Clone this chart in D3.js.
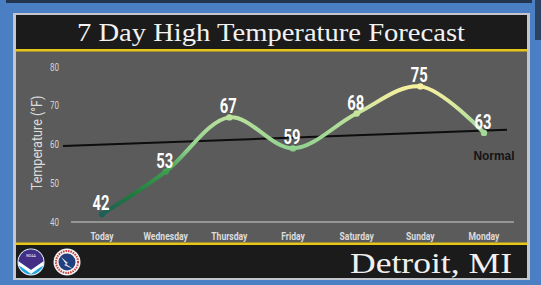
<!DOCTYPE html>
<html>
<head>
<meta charset="utf-8">
<script src="https://cdn.jsdelivr.net/npm/d3@7"></script>
<style>
  html, body { margin: 0; padding: 0; background: #4a7fc3; }
  svg { display: block; }
</style>
</head>
<body>
<svg id="chart" width="541" height="285"></svg>
<script>
const days = ["Today", "Wednesday", "Thursday", "Friday", "Saturday", "Sunday", "Monday"];
const highs = [42, 53, 67, 59, 68, 75, 63];
const normals = [60.0, 60.6, 61.2, 61.8, 62.4, 63.0, 63.6];
const yTicks = [40, 50, 60, 70, 80];

const svg = d3.select("#chart");
const narrow = "Roboto, Liberation Sans, sans-serif";

// --- frame ---
svg.append("rect").attr("x", 0).attr("y", 0).attr("width", 541).attr("height", 285).attr("fill", "#4a7fc3");
svg.append("rect").attr("x", 6).attr("y", 0).attr("width", 526).attr("height", 3).attr("fill", "#24364d");
svg.append("rect").attr("x", 535).attr("y", 0).attr("width", 6).attr("height", 40).attr("fill", "#2c4260");
svg.append("rect").attr("x", 13).attr("y", 13).attr("width", 517).attr("height", 267).attr("fill", "#c3c7cc");
svg.append("rect").attr("x", 16).attr("y", 15).attr("width", 511).attr("height", 263).attr("fill", "#1b1b1b");
svg.append("rect").attr("x", 16).attr("y", 51).attr("width", 511).attr("height", 192).attr("fill", "#5b5b5b");
svg.append("rect").attr("x", 16).attr("y", 49).attr("width", 511).attr("height", 2.5).attr("fill", "#e6c619");
svg.append("rect").attr("x", 16).attr("y", 242.5).attr("width", 511).attr("height", 2.5).attr("fill", "#e6c619");

svg.append("text")
  .attr("x", 271).attr("y", 41)
  .attr("text-anchor", "middle")
  .attr("font-family", "Liberation Serif, DejaVu Serif, serif")
  .attr("font-size", 25)
  .attr("fill", "#f2f2f2")
  .attr("textLength", 388).attr("lengthAdjust", "spacingAndGlyphs")
  .text("7 Day High Temperature Forecast");

// --- scales ---
const x = d3.scalePoint().domain(days).range([102, 484]);
const y = d3.scaleLinear().domain([40, 80]).range([222, 67]);

// axis baseline
svg.append("line")
  .attr("x1", 71).attr("x2", 514)
  .attr("y1", y(40)).attr("y2", y(40))
  .attr("stroke", "#a9a9a9").attr("stroke-width", 1.5);

// y ticks
svg.append("g").selectAll("text")
  .data(yTicks)
  .join("text")
  .attr("transform", d => `translate(59,${y(d) + 3.5}) scale(0.8,1)`)
  .attr("text-anchor", "end")
  .attr("font-family", narrow)
  .attr("font-size", 10)
  .attr("fill", "#d4d4d4")
  .text(d => d);

svg.append("text")
  .attr("transform", "translate(42,143) rotate(-90) scale(0.9,1)")
  .attr("text-anchor", "middle")
  .attr("font-family", narrow)
  .attr("font-size", 14)
  .attr("fill", "#dcdcdc")
  .text("Temperature (°F)");

// x labels
svg.append("g").selectAll("text")
  .data(days)
  .join("text")
  .attr("transform", d => `translate(${x(d)},240) scale(0.78,1)`)
  .attr("text-anchor", "middle")
  .attr("font-family", narrow)
  .attr("font-weight", "bold")
  .attr("font-size", 11)
  .attr("fill", "#dcdcdc")
  .text(d => d);

// --- normal trend line (extended a bit past the first and last day) ---
const step = x.step();
const slope = (normals[normals.length - 1] - normals[0]) / (days.length - 1);
const nx0 = x(days[0]) - 39, nx1 = x(days[days.length - 1]) + 23;
const nv0 = normals[0] - slope * 39 / step;
const nv1 = normals[normals.length - 1] + slope * 23 / step;
svg.append("line")
  .attr("x1", nx0).attr("y1", y(nv0))
  .attr("x2", nx1).attr("y2", y(nv1))
  .attr("stroke", "#0d0d0d").attr("stroke-width", 2);

svg.append("text")
  .attr("x", 494).attr("y", 160)
  .attr("text-anchor", "middle")
  .attr("font-family", "Liberation Sans, DejaVu Sans, sans-serif")
  .attr("font-weight", "bold")
  .attr("font-size", 12)
  .attr("fill", "#141414")
  .attr("textLength", 41).attr("lengthAdjust", "spacingAndGlyphs")
  .text("Normal");

// --- temperature gradient ---
const grad = svg.append("defs").append("linearGradient")
  .attr("id", "tempGrad")
  .attr("gradientUnits", "userSpaceOnUse")
  .attr("x1", 0).attr("x2", 0)
  .attr("y1", y(42)).attr("y2", y(75));
[[42, "#1d5f58"], [47, "#1f7a3e"], [53, "#3d9e50"], [59, "#92d28f"], [66, "#b3df9a"], [71, "#e0eb9f"], [75, "#f7efa0"]]
  .forEach(([v, c]) => grad.append("stop").attr("offset", (v - 42) / 33).attr("stop-color", c));

const line = d3.line()
  .x((d, i) => x(days[i]))
  .y(d => y(d))
  .curve(d3.curveCatmullRom.alpha(0.5));

svg.append("path")
  .datum(highs)
  .attr("d", line)
  .attr("fill", "none")
  .attr("stroke", "url(#tempGrad)")
  .attr("stroke-width", 4)
  .attr("stroke-linecap", "round");

svg.append("g").selectAll("circle")
  .data(highs)
  .join("circle")
  .attr("cx", (d, i) => x(days[i]))
  .attr("cy", d => y(d))
  .attr("r", 3.2)
  .attr("fill", "url(#tempGrad)");

svg.append("g").selectAll("text")
  .data(highs)
  .join("text")
  .attr("transform", (d, i) => `translate(${x(days[i]) - 1},${y(d) - 4}) scale(0.74,1)`)
  .attr("text-anchor", "middle")
  .attr("font-family", narrow)
  .attr("font-weight", "bold")
  .attr("font-size", 20)
  .attr("fill", "#ffffff")
  .text(d => d);

// --- footer ---
svg.append("text")
  .attr("x", 512).attr("y", 273)
  .attr("text-anchor", "end")
  .attr("font-family", "Liberation Serif, DejaVu Serif, serif")
  .attr("font-size", 30)
  .attr("fill", "#f0f0f0")
  .attr("textLength", 162).attr("lengthAdjust", "spacingAndGlyphs")
  .text("Detroit, MI");

// NOAA logo
const noaa = svg.append("g").attr("transform", "translate(31,262)");
noaa.append("circle").attr("r", 13.5).attr("fill", "#f4f4f4");
noaa.append("clipPath").attr("id", "noaaClip").append("circle").attr("r", 12.5);
const nc = noaa.append("g").attr("clip-path", "url(#noaaClip)");
nc.append("rect").attr("x", -13).attr("y", -13).attr("width", 26).attr("height", 26).attr("fill", "#20a4e0");
nc.append("path").attr("d", "M-13,-13 H13 V-1 L0,8 L-13,-1 Z").attr("fill", "#452e86");
nc.append("path").attr("d", "M-13,-1 L0,8 L13,-1 L13,3 Q6,7 0,12 Q-6,7 -13,3 Z").attr("fill", "#ffffff");
noaa.append("text").attr("y", -5).attr("text-anchor", "middle")
  .attr("font-family", narrow).attr("font-size", 3.5).attr("fill", "#ffffff").text("NOAA");

// NWS logo
const nws = svg.append("g").attr("transform", "translate(67,262)");
nws.append("circle").attr("r", 13.5).attr("fill", "#f4f4f4");
nws.append("circle").attr("r", 11).attr("fill", "none").attr("stroke", "#cc3a3a").attr("stroke-width", 2).attr("stroke-dasharray", "1.5,1");
nws.append("circle").attr("r", 8.5).attr("fill", "#1f3f7e");
nws.append("path").attr("d", "M-6,-5 L1,1 L-1,2 L6,7 L-3,3 L-1,2 Z").attr("fill", "#e8e8e8");
</script>
</body>
</html>
